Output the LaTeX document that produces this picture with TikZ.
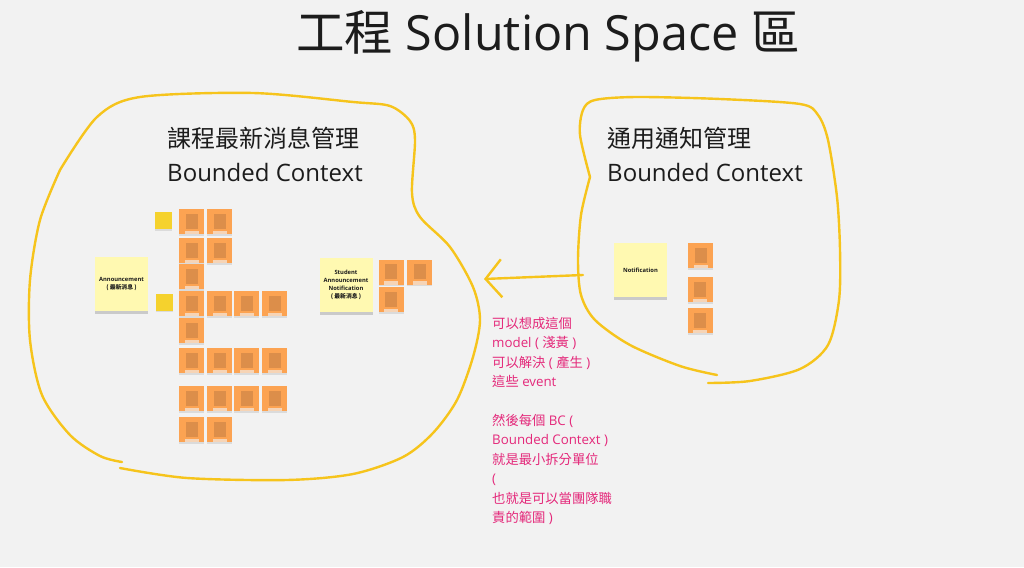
\documentclass[tikz,border=0pt]{standalone}
\usepackage{fontspec}
\setmainfont{Open Sans}
\newfontfamily\cjk{Noto Sans CJK TC}
\newcommand\zh[1]{{\cjk #1}}
\usetikzlibrary{arrows.meta,shadows}

\definecolor{boardgray}{RGB}{242,242,242}
\definecolor{bcyellow}{RGB}{246,196,28}
\definecolor{notelight}{RGB}{255,249,177}
\definecolor{notedark}{RGB}{245,210,45}
\definecolor{eventorange}{RGB}{252,163,82}
\definecolor{blurdark}{RGB}{220,142,74}
\definecolor{blurpale}{RGB}{246,212,182}
\definecolor{notepink}{RGB}{228,40,122}
\definecolor{inkblack}{RGB}{28,28,28}

\tikzset{
  bcline/.style={draw=bcyellow, line width=2.4pt, line cap=round, line join=round},
  bctitle/.style={anchor=base west, inner sep=0pt, text=inkblack, font=\fontsize{24}{28}\selectfont},
  modelnote/.style={fill=notelight, minimum width=53pt, minimum height=54pt, inner sep=1pt,
    align=center, text=inkblack, font=\fontsize{5.8}{8}\selectfont\bfseries,
    drop shadow={shadow xshift=0pt, shadow yshift=-2.5pt, opacity=0.35}},
  smallnote/.style={fill=notedark, minimum width=17pt, minimum height=17pt, inner sep=0pt,
    drop shadow={shadow xshift=0pt, shadow yshift=-1.5pt, opacity=0.2}},
  eventnote/.style={fill=eventorange, minimum width=25pt, minimum height=25pt, inner sep=0pt,
    drop shadow={shadow xshift=0pt, shadow yshift=-1.5pt, opacity=0.2},
    path picture={
      \fill[blurdark] ([xshift=-6pt,yshift=-7pt]path picture bounding box.center)
        rectangle ([xshift=6pt,yshift=8pt]path picture bounding box.center);
      \fill[blurpale] ([xshift=-7pt,yshift=-12.5pt]path picture bounding box.center)
        rectangle ([xshift=7pt,yshift=-9pt]path picture bounding box.center);
    }},
}

\begin{document}
\begin{tikzpicture}[x=1pt,y=-1pt]
\useasboundingbox (0,0) rectangle (1024,567);
\fill[boardgray] (0,0) rectangle (1024,567);

% title
\node[anchor=base, inner sep=0pt, text=inkblack, font=\fontsize{48.5}{56}\selectfont] (title) at (548,51)
  {\zh{工程} Solution Space \zh{區}};

% left bounded context
\draw[bcline] plot[smooth] coordinates {(122,462) (100,456) (70,435) (42,395) (30,340) (30,280) (40,220) (60,170)}
  -- plot[smooth] coordinates {(60,170) (97,117) (140,97) (253,93) (353,102) (390,106) (410,121) (415,140)
  (412,193) (420,217) (450,247) (473,287) (480,320) (473,357) (457,400) (433,433) (403,457)
  (353,474) (287,480) (187,478) (120,468)};
\node[bctitle] (leftbczh) at (167,147) {\zh{課程最新消息管理}};
\node[bctitle] (leftbcen) at (167,181) {Bounded Context};

% right bounded context
\draw[bcline] plot[smooth] coordinates {(708,383) (750,381) (800,369) (828,345) (839,300) (840,250)
  (837,197) (828,140) (818,115) (800,104) (720,99) (637,97) (595,100) (583,110) (580,135) (590,177)}
  -- plot[smooth] coordinates {(590,177) (581,215) (578,260) (581,295) (595,320) (630,345) (680,366) (717,375)};
\node[bctitle] (rightbczh) at (607,147) {\zh{通用通知管理}};
\node[bctitle] (rightbcen) at (607,181) {Bounded Context};

% models
\node[modelnote] (announce) at (121.5,284) {Announcement\\\zh{( 最新消息 )}};
\node[modelnote] (studentnote) at (346,285) {Student\\Announcement\\Notification\\\zh{( 最新消息 )}};
\node[modelnote] (notify) at (640.5,270) {Notification};
\node[smallnote] (actor1) at (163.5,220.5) {};
\node[smallnote] (actor2) at (164.5,302) {};

% events
\foreach \cx/\cy [count=\i] in {191.5/221.5, 219.5/221.5, 191.5/250.5, 219.5/250.5, 191.5/276.5,
  191.5/303.5, 219.5/303.5, 246.5/303.5, 274.5/303.5, 191.5/330.5,
  191.5/360.5, 219.5/360.5, 246.5/360.5, 274.5/360.5,
  191.5/398.5, 219.5/398.5, 246.5/398.5, 274.5/398.5, 191.5/429.5, 219.5/429.5}
  \node[eventnote] (ev\i) at (\cx,\cy) {};
\foreach \cx/\cy [count=\i] in {391/272, 419.5/272, 391/299.5}
  \node[eventnote] (sn\i) at (\cx,\cy) {};
\foreach \cx/\cy [count=\i] in {700.5/255.5, 700/289.5, 700/320.5}
  \node[eventnote] (nt\i) at (\cx,\cy) {};

% relation between contexts
\coordinate (arrowtail) at (583,275);
\coordinate (arrowhead) at (484,279);
\draw[bcline, -{Straight Barb[length=16pt, width=38pt]}] (arrowtail) -- (arrowhead);

% remark
\node[anchor=north west, inner sep=0pt, align=left, text=notepink, font=\fontsize{13.3}{19.4}\selectfont] (remark) at (492,317)
  {\zh{可以想成這個}\\
   model ( \zh{淺黃} )\\
   \zh{可以解決} ( \zh{產生} )\\
   \zh{這些} event\\[19.4pt]
   \zh{然後每個} BC (\\
   Bounded Context )\\
   \zh{就是最小拆分單位}\\
   (\\
   \zh{也就是可以當團隊職}\\
   \zh{責的範圍} )};
\end{tikzpicture}
\end{document}
